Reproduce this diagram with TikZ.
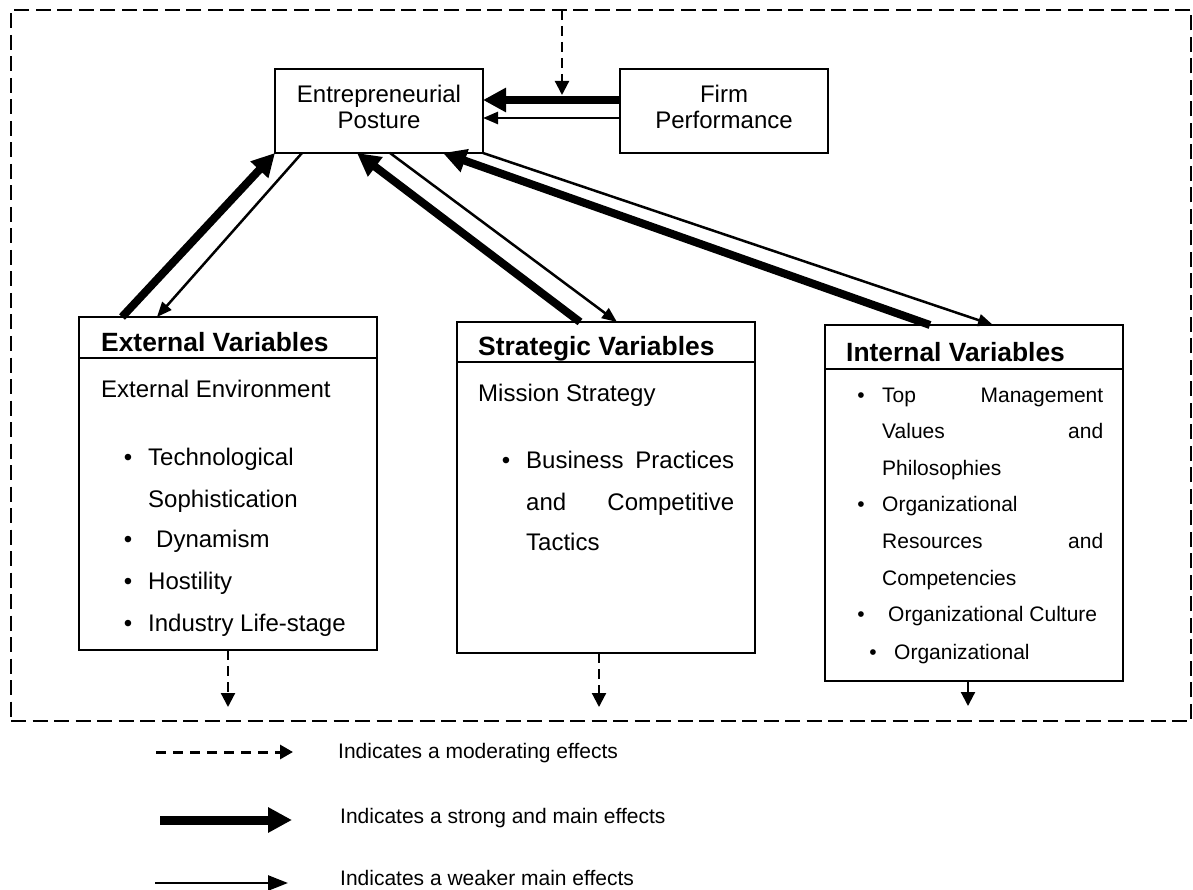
\documentclass[tikz,border=0pt]{standalone}
\usepackage{fontspec}
\setmainfont{Liberation Sans}
\usetikzlibrary{arrows.meta}

\tikzset{
  box/.style={draw, line width=2pt, inner sep=0pt, outer sep=0pt, anchor=north west},
  body/.style={anchor=base west, inner sep=0pt, font=\fontsize{24}{28}\selectfont},
  ibody/.style={anchor=base west, inner sep=0pt, font=\fontsize{21}{25}\selectfont},
  ctext/.style={anchor=base, inner sep=0pt, font=\fontsize{24}{28}\selectfont},
  title/.style={anchor=base west, inner sep=0pt, font=\fontsize{26.4}{30}\selectfont\bfseries},
  bul/.style={anchor=base, inner sep=0pt, font=\fontsize{24}{28}\selectfont},
  ibul/.style={anchor=base, inner sep=0pt, font=\fontsize{21}{25}\selectfont},
  legtext/.style={anchor=base west, inner sep=0pt, font=\fontsize{21}{25}\selectfont},
  strong/.style={line width=8pt, -{Triangle[length=23pt,width=23pt]}},
  weak/.style={line width=2.5pt, -{Triangle[length=15pt,width=12pt]}},
  moder/.style={line width=2.2pt, dash pattern=on 10pt off 6pt, -{Triangle[length=14pt,width=14pt]}},
  plain/.style={line width=2.2pt, -{Triangle[length=14pt,width=14pt]}},
  sep/.style={line width=2pt},
}

\begin{document}
\begin{tikzpicture}[x=1pt,y=-1pt]
\useasboundingbox (0,0) rectangle (1193,890);

% dashed frame around the model
\node[box, line width=2pt, dash pattern=on 15pt off 6.5pt, minimum width=1180pt, minimum height=711pt] (frame) at (11,10) {};

% main boxes
\node[box, minimum width=208pt, minimum height=84pt] (ep) at (275,69) {};
\node[box, minimum width=208pt, minimum height=84pt] (firm) at (620,69) {};
\node[box, minimum width=298pt, minimum height=333pt] (ext) at (79,317) {};
\node[box, minimum width=298pt, minimum height=331pt] (str) at (457,322) {};
\node[box, minimum width=298pt, minimum height=356pt] (int) at (825,325) {};

% title separators
\draw[sep] ([yshift=-41pt]ext.north west) -- ([yshift=-41pt]ext.north east);
\draw[sep] ([yshift=-40pt]str.north west) -- ([yshift=-40pt]str.north east);
\draw[sep] ([yshift=-44pt]int.north west) -- ([yshift=-44pt]int.north east);

% top boxes text
\node[ctext] (ep1) at (379,102.5) {Entrepreneurial};
\node[ctext] (ep2) at (379,129) {Posture};
\node[ctext] (fp1) at (724,102.5) {Firm};
\node[ctext] (fp2) at (724,129) {Performance};

% external variables
\node[title] (extT) at (101,352) {External Variables};
\node[body] (ext0) at (101,397) {External Environment};
\node[bul] (eb1) at (128,465) {•};
\node[body] (ext1) at (148,465) {Technological};
\node[body] (ext2) at (148,507) {Sophistication};
\node[bul] (eb2) at (128,547) {•};
\node[body] (ext3) at (156,547) {Dynamism};
\node[bul] (eb3) at (128,589) {•};
\node[body] (ext4) at (148,589) {Hostility};
\node[bul] (eb4) at (128,631) {•};
\node[body] (ext5) at (148,631) {Industry Life-stage};

% strategic variables
\node[title] (strT) at (478,355) {Strategic Variables};
\node[body] (str0) at (478,401) {Mission Strategy};
\node[bul] (sb1) at (506,468) {•};
\node[body] (str1) at (526,468) {\hbox to 208pt{Business\hfill Practices}};
\node[body] (str2) at (526,510) {\hbox to 208pt{and\hfill Competitive}};
\node[body] (str3) at (526,550) {Tactics};

% internal variables
\node[title] (intT) at (846,361) {Internal Variables};
\node[ibul] (ib1) at (861,402) {•};
\node[ibody] (int1) at (882,402) {\hbox to 221pt{Top\hfill Management}};
\node[ibody] (int2) at (882,438.3) {\hbox to 221pt{Values\hfill and}};
\node[ibody] (int3) at (882,475) {Philosophies};
\node[ibul] (ib2) at (861,511.7) {•};
\node[ibody] (int4) at (882,511.7) {Organizational};
\node[ibody] (int5) at (882,548.3) {\hbox to 221pt{Resources\hfill and}};
\node[ibody] (int6) at (882,585) {Competencies};
\node[ibul] (ib3) at (861,621.7) {•};
\node[ibody] (int7) at (888,621.7) {Organizational Culture};
\node[ibul] (ib4) at (873,659.3) {•};
\node[ibody] (int8) at (894,659.3) {Organizational};

% effects between the variables and the posture
\draw[strong] ([xshift=43pt]ext.north west) -- (ep.south west);
\draw[weak] ([xshift=27pt]ep.south west) -- ([xshift=78pt]ext.north west);
\draw[strong] ([xshift=123pt]str.north west) -- ([xshift=82pt]ep.south west);
\draw[weak] ([xshift=115pt]ep.south west) -- ([xshift=160pt]str.north west);
\draw[strong] ([xshift=105pt]int.north west) -- ([xshift=168pt]ep.south west);
\draw[weak] (ep.south east) -- ([xshift=168pt]int.north west);

% performance feedback
\draw[strong] ([yshift=11pt]firm.west) -- ([yshift=11pt]ep.east);
\draw[weak] ([yshift=-7pt]firm.west) -- ([yshift=-7pt]ep.east);

% moderating effects
\draw[moder] ([xshift=551pt]frame.north west) -- ++(0,85);
\draw[moder] (ext.south) -- ++(0,57);
\draw[moder] ([xshift=-7pt]str.south) -- ++(0,54);
\draw[plain] ([xshift=-6pt]int.south) -- ++(0,25);

% legend
\coordinate (la1) at (156,752); \coordinate (la2) at (293,752);
\coordinate (lb1) at (160,820); \coordinate (lb2) at (292,820);
\coordinate (lc1) at (155,883); \coordinate (lc2) at (288,883);
\draw[line width=3pt, dash pattern=on 10pt off 7pt, -{Triangle[length=13pt,width=14pt]}] (la1) -- (la2);
\draw[line width=9pt, -{Triangle[length=24pt,width=24pt]}] (lb1) -- (lb2);
\draw[line width=2.5pt, -{Triangle[length=20pt,width=15pt]}] (lc1) -- (lc2);
\node[legtext] (lt1) at (338,758) {Indicates a moderating effects};
\node[legtext] (lt2) at (340,823) {Indicates a strong and main effects};
\node[legtext] (lt3) at (340,885) {Indicates a weaker main effects};
\end{tikzpicture}
\end{document}
